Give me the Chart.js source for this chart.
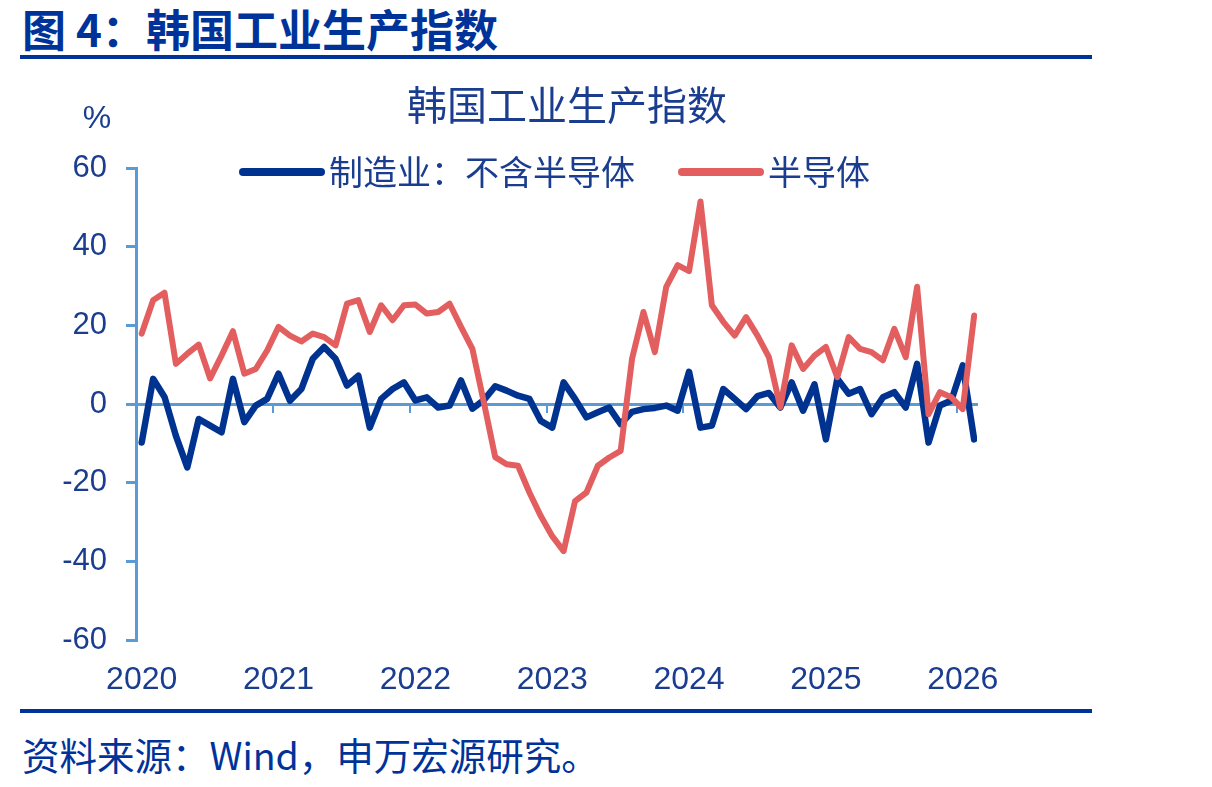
<!DOCTYPE html>
<html lang="zh-CN">
<head>
<meta charset="utf-8">
<title>韩国工业生产指数</title>
<script src="https://cdn.jsdelivr.net/npm/chart.js@4.4.1/dist/chart.umd.min.js"></script>
<style>
  html, body { margin: 0; padding: 0; background: #fff; }
  body { width: 1212px; height: 787px; position: relative; overflow: hidden;
         font-family: "Noto Sans CJK SC", sans-serif; }
  .head { position: absolute; left: 22px; top: 6px; font-size: 44px; line-height: 44px;
          font-weight: 700; color: #00339a; white-space: nowrap; }
  .rule { position: absolute; left: 20px; width: 1072px; height: 4px; background: #00339a; }
  .src  { position: absolute; left: 22px; top: 735px; font-size: 37.5px; line-height: 38px;
          color: #00339a; white-space: nowrap; }
  .wrap { position: absolute; left: 0; top: 70px; width: 1134px; height: 640px; }
</style>
</head>
<body>
<div class="head">图 4：韩国工业生产指数</div>
<div class="rule" style="top:55px"></div>
<div class="wrap"><canvas id="chart"></canvas></div>
<div class="rule" style="top:709px"></div>
<div class="src">资料来源：Wind，申万宏源研究。</div>

<script>
/* ── Data ───────────────────────────────────────────── */
const years = ['2020', '2021', '2022', '2023', '2024', '2025', '2026'];
const lastMonth = '2026-02';
const months = [];
years.forEach(y => {
  for (let m = 1; m <= 12; m++) {
    if (months[months.length - 1] === lastMonth) return;
    months.push(y + '-' + String(m).padStart(2, '0'));
  }
});

const seriesNames = ['制造业：不含半导体', '半导体'];

// 制造业：不含半导体, % yoy, 2020-01 … 2026-02
const mfgExSemi = [
  -9.8, 6.4, 1.8, -8.1, -16.1, -3.8, -5.5, -7.2, 6.4, -4.6, -0.4, 1.3,
  7.7, 0.8, 3.8, 11.5, 14.5, 11.5, 4.7, 7.2, -6.0, 1.3, 3.8, 5.5,
  0.9, 1.7, -0.9, -0.4, 6.0, -1.2, 1.0, 4.5, 3.4, 2.1, 1.3, -4.3,
  -6.0, 5.5, 1.3, -3.4, -2.1, -0.9, -5.1, -2.0, -1.3, -1.0, -0.4, -1.7,
  8.2, -6.0, -5.5, 3.8, 1.3, -1.3, 2.0, 2.8, -0.9, 5.5, -1.7, 5.0,
  -9.0, 6.4, 2.6, 3.8, -2.6, 1.7, 3.0, -0.9, 10.2, -9.8, -0.4, 0.9,
  9.8, -9.0
];

// 半导体, % yoy, 2020-01 … 2026-02
const semi = [
  17.9, 26.4, 28.3, 10.2, 12.8, 15.1, 6.5, 12.3, 18.5, 7.7, 8.9, 13.6,
  19.6, 17.4, 15.9, 17.9, 17.0, 14.9, 25.5, 26.4, 18.3, 25.1, 21.3, 25.1,
  25.3, 23.0, 23.4, 25.5, 19.6, 14.0, 0.5, -13.5, -15.3, -15.7, -22.5, -28.5,
  -33.6, -37.4, -24.7, -22.5, -15.7, -13.6, -11.9, 11.5, 23.4, 13.2, 29.8, 35.3,
  33.8, 51.5, 25.1, 20.9, 17.4, 22.1, 17.4, 11.9, -0.8, 14.9, 8.9, 12.3,
  14.5, 6.8, 17.0, 14.0, 13.2, 11.1, 19.1, 11.9, 29.8, -2.6, 3.0, 1.7,
  -1.3, 22.5
];

const yTicks = [-60, -40, -20, 0, 20, 40, 60];

/* ── Style ──────────────────────────────────────────── */
const TEXT = '#1a3d8f';
const BLUE = '#003390';
const RED  = '#e35f5f';
const AXIS = '#5b9bd5';
const NUM_FONT = '"Liberation Sans", Arial, sans-serif';
const CJK_FONT = '"Noto Sans CJK SC", sans-serif';

const toPoints = vals => vals.map((v, i) => ({ x: i, y: v }));

/* ── Legend + unit label (sits inside the plot top) ── */
const legendAndUnit = {
  id: 'legendAndUnit',
  afterDraw(chart) {
    const { ctx, chartArea } = chart;
    ctx.save();
    ctx.fillStyle = TEXT;
    ctx.textBaseline = 'middle';

    ctx.font = '32px ' + NUM_FONT;
    ctx.textAlign = 'center';
    ctx.fillText('%', chartArea.left - 39, chartArea.top - 49);

    ctx.font = '34px ' + CJK_FONT;
    ctx.textAlign = 'left';
    const seg = 78, gapText = 8, gapItem = 47;
    const items = chart.data.datasets.map(ds => ({
      label: ds.label, color: ds.borderColor, w: ctx.measureText(ds.label).width
    }));
    const total = items.reduce((s, it) => s + seg + gapText + it.w, 0) + gapItem * (items.length - 1);
    let x = (chartArea.left + chartArea.right) / 2 - total / 2;
    const y = chartArea.top + 4;
    items.forEach(it => {
      ctx.strokeStyle = it.color;
      ctx.lineWidth = 8;
      ctx.lineCap = 'round';
      ctx.beginPath();
      ctx.moveTo(x, y);
      ctx.lineTo(x + seg, y);
      ctx.stroke();
      ctx.fillStyle = TEXT;
      ctx.fillText(it.label, x + seg + gapText, y);
      x += seg + gapText + it.w + gapItem;
    });
    ctx.restore();
  }
};

/* ── Chart ──────────────────────────────────────────── */
new Chart(document.getElementById('chart'), {
  type: 'line',
  data: {
    labels: months,
    datasets: [
      { label: seriesNames[0], data: toPoints(mfgExSemi), borderColor: BLUE, backgroundColor: BLUE, borderWidth: 6.5, order: 2 },
      { label: seriesNames[1], data: toPoints(semi), borderColor: RED, backgroundColor: RED, borderWidth: 6, order: 1 }
    ]
  },
  options: {
    responsive: true,
    maintainAspectRatio: false,
    animation: false,
    layout: { padding: 0 },
    elements: {
      line: { tension: 0, borderJoinStyle: 'round', borderCapStyle: 'round' },
      point: { radius: 0, hoverRadius: 0 }
    },
    plugins: {
      legend: { display: false },
      tooltip: { enabled: false },
      title: {
        display: true,
        text: '韩国工业生产指数',
        color: TEXT,
        font: { size: 40, family: CJK_FONT, weight: 'normal' },
        padding: { top: 11, bottom: 39 }
      }
    },
    scales: {
      x: {
        type: 'linear',
        min: -0.5,
        max: 73.25,
        afterBuildTicks: ax => { ax.ticks = years.map((y, k) => ({ value: k * 12 })); },
        afterFit: ax => { ax.height = 70; },
        grid: { display: false, drawTicks: false },
        border: { display: false },
        ticks: {
          autoSkip: false, maxRotation: 0, padding: 21,
          color: TEXT, font: { size: 32, family: NUM_FONT },
          callback: v => years[v / 12]
        }
      },
      x2: {
        type: 'linear',
        position: { y: 0 },
        min: -0.5,
        max: 73.25,
        afterBuildTicks: ax => { ax.ticks = years.slice(1).map((y, k) => ({ value: k * 12 + 11.5 })); },
        grid: { display: true, drawOnChartArea: false, drawTicks: true, tickLength: 7, color: AXIS, lineWidth: 2 },
        border: { display: true, color: AXIS, width: 3 },
        ticks: { display: false }
      },
      y: {
        min: -60,
        max: 60,
        afterBuildTicks: ax => { ax.ticks = yTicks.map(v => ({ value: v })); },
        afterFit: ax => { ax.width = 136; },
        grid: { drawOnChartArea: false, drawTicks: true, tickLength: 10, color: AXIS, lineWidth: 3 },
        border: { display: true, color: AXIS, width: 3 },
        ticks: { padding: 19, color: TEXT, font: { size: 31, family: NUM_FONT } }
      },
      // empty right-hand margin so the title centres on the whole canvas
      yRight: {
        position: 'right',
        min: -60,
        max: 60,
        afterFit: ax => { ax.width = 157; },
        grid: { display: false, drawTicks: false },
        border: { display: false },
        ticks: { display: false }
      }
    }
  },
  plugins: [legendAndUnit]
});
</script>
</body>
</html>
